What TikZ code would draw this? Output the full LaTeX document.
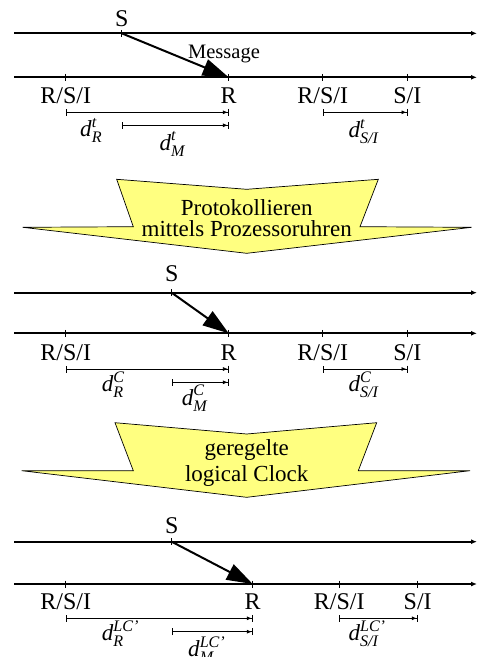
\documentclass[tikz,border=0pt]{standalone}
\usepackage{amsmath}
\usepackage{fontspec}
\setmainfont{Liberation Serif}
\usetikzlibrary{arrows.meta}
\definecolor{arrowyellow}{RGB}{255,255,128}
\newcommand{\dlab}[2]{\textit{d}$_{\textit{#1}}^{\textit{#2}}$}
\begin{document}
\begin{tikzpicture}[x=1pt,y=-1pt,
  timeline/.style={line width=2pt,-{Latex[length=6pt,width=5pt]}},
  tickmark/.style={line width=1.3pt},
  msg/.style={line width=2pt,-{Triangle[length=26pt,width=17pt]}},
  interval/.style={line width=0.8pt,{Bar[width=7pt]}-{Latex[length=5pt,width=4pt]Bar[width=7pt]}},
  lbl/.style={font=\fontsize{24}{26}\selectfont,inner sep=0pt,anchor=base},
  dl/.style={font=\fontsize{23}{26}\selectfont,inner sep=0pt,anchor=base west},
  bigarrow/.style={fill=arrowyellow,draw=black,line width=0.7pt,line join=miter},
  atext/.style={font=\fontsize{23}{26}\selectfont,inner sep=0pt,anchor=base}]
\useasboundingbox (0,0) rectangle (477,657);

% ---------- Section 1 ----------
\coordinate (a1L) at (14,33.3); \coordinate (a1R) at (477,33.3);
\coordinate (b1L) at (14,77.3); \coordinate (b1R) at (477,77.3);
\coordinate (s1) at (121.7,33.3);
\coordinate (p1) at (65.7,77.3); \coordinate (r1) at (228.7,77.3);
\coordinate (q1) at (322.7,77.3); \coordinate (u1) at (407.3,77.3);
\draw[timeline] (a1L) -- (a1R);
\draw[timeline] (b1L) -- (b1R);
\foreach \c in {s1,p1,r1,q1,u1} \draw[tickmark] ([yshift=3.5pt]\c) -- ([yshift=-3.5pt]\c);
\draw[msg] (s1) -- (r1);
\node[font=\fontsize{20.5}{24}\selectfont,inner sep=0pt,anchor=base] (m1) at (224,58.3) {Message};
\node[lbl] (ls1) at (121.7,26) {S};
\node[lbl] (lp1) at (65.7,103.3) {R/S/I};
\node[lbl] (lr1) at (228.7,103.3) {R};
\node[lbl] (lq1) at (322.7,103.3) {R/S/I};
\node[lbl] (lu1) at (407.3,103.3) {S/I};
\coordinate (dr1a) at (65.7,112.3); \coordinate (dr1b) at (228.7,112.3);
\coordinate (dm1a) at (121.7,125.3); \coordinate (dm1b) at (228.7,125.3);
\coordinate (ds1a) at (322.7,112.3); \coordinate (ds1b) at (407.3,112.3);
\draw[interval] (dr1a) -- (dr1b);
\draw[interval] (dm1a) -- (dm1b);
\draw[interval] (ds1a) -- (ds1b);
\node[dl] (ldr1) at (80,136.7) {\dlab{R}{t}};
\node[dl] (ldm1) at (159.3,150) {\dlab{M}{t}};
\node[dl] (lds1) at (348.3,137.7) {\dlab{S/I}{t}};

% ---------- Arrow 1 ----------
\draw[bigarrow] (116.7,179.3) -- (246.7,189.3) -- (378.3,179.3) -- (360,226.7) -- (471.7,227.3) -- (246.7,253.3) -- (22.7,227.3) -- (133.3,226.7) -- cycle;
\node[atext] (t1a) at (246.7,215.5) {Protokollieren};
\node[atext] (t1b) at (246.7,236.7) {mittels Prozessoruhren};

% ---------- Section 2 ----------
\coordinate (a2L) at (14,292.7); \coordinate (a2R) at (477,292.7);
\coordinate (b2L) at (14,333.3); \coordinate (b2R) at (477,333.3);
\coordinate (s2) at (171.7,292.7);
\coordinate (p2) at (65.7,333.3); \coordinate (r2) at (228.7,333.3);
\coordinate (q2) at (322.7,333.3); \coordinate (u2) at (407.3,333.3);
\draw[timeline] (a2L) -- (a2R);
\draw[timeline] (b2L) -- (b2R);
\foreach \c in {s2,p2,r2,q2,u2} \draw[tickmark] ([yshift=3.5pt]\c) -- ([yshift=-3.5pt]\c);
\draw[msg] (s2) -- (r2);
\node[lbl] (ls2) at (171.7,281.7) {S};
\node[lbl] (lp2) at (65.7,360) {R/S/I};
\node[lbl] (lr2) at (228.7,360) {R};
\node[lbl] (lq2) at (322.7,360) {R/S/I};
\node[lbl] (lu2) at (407.3,360) {S/I};
\coordinate (dr2a) at (65.7,369); \coordinate (dr2b) at (228.7,369);
\coordinate (dm2a) at (171.7,382.3); \coordinate (dm2b) at (228.7,382.3);
\coordinate (ds2a) at (322.7,369); \coordinate (ds2b) at (407.3,369);
\draw[interval] (dr2a) -- (dr2b);
\draw[interval] (dm2a) -- (dm2b);
\draw[interval] (ds2a) -- (ds2b);
\node[dl] (ldr2) at (101.7,391.7) {\dlab{R}{C}};
\node[dl] (ldm2) at (181.7,405) {\dlab{M}{C}};
\node[dl] (lds2) at (348.3,391.7) {\dlab{S/I}{C}};

% ---------- Arrow 2 ----------
\draw[bigarrow] (115,422.7) -- (246.7,434) -- (376.7,422.7) -- (358.3,470.7) -- (470,470.7) -- (246.7,497.3) -- (21.7,470.7) -- (133.3,470.7) -- cycle;
\node[atext] (t2a) at (246.7,455) {geregelte};
\node[atext] (t2b) at (246.7,481.7) {logical Clock};

% ---------- Section 3 ----------
\coordinate (a3L) at (14,541.7); \coordinate (a3R) at (477,541.7);
\coordinate (b3L) at (14,584); \coordinate (b3R) at (477,584);
\coordinate (s3) at (171.7,541.7);
\coordinate (p3) at (65.7,584); \coordinate (r3) at (252.7,584);
\coordinate (q3) at (339.3,584); \coordinate (u3) at (417.7,584);
\draw[timeline] (a3L) -- (a3R);
\draw[timeline] (b3L) -- (b3R);
\foreach \c in {s3,p3,r3,q3,u3} \draw[tickmark] ([yshift=3.5pt]\c) -- ([yshift=-3.5pt]\c);
\draw[msg] (s3) -- (r3);
\node[lbl] (ls3) at (171.7,533.3) {S};
\node[lbl] (lp3) at (65.7,609) {R/S/I};
\node[lbl] (lr3) at (252.7,609) {R};
\node[lbl] (lq3) at (339.3,609) {R/S/I};
\node[lbl] (lu3) at (417.7,609) {S/I};
\coordinate (dr3a) at (65.7,618.3); \coordinate (dr3b) at (252.7,618.3);
\coordinate (dm3a) at (171.7,631.7); \coordinate (dm3b) at (252.7,631.7);
\coordinate (ds3a) at (339.3,618.3); \coordinate (ds3b) at (417.7,618.3);
\draw[interval] (dr3a) -- (dr3b);
\draw[interval] (dm3a) -- (dm3b);
\draw[interval] (ds3a) -- (ds3b);
\node[dl] (ldr3) at (101.7,640.7) {\dlab{R}{LC'}};
\node[dl] (ldm3) at (188,656.7) {\dlab{M}{LC'}};
\node[dl] (lds3) at (348.3,640.7) {\dlab{S/I}{LC'}};
\end{tikzpicture}
\end{document}
